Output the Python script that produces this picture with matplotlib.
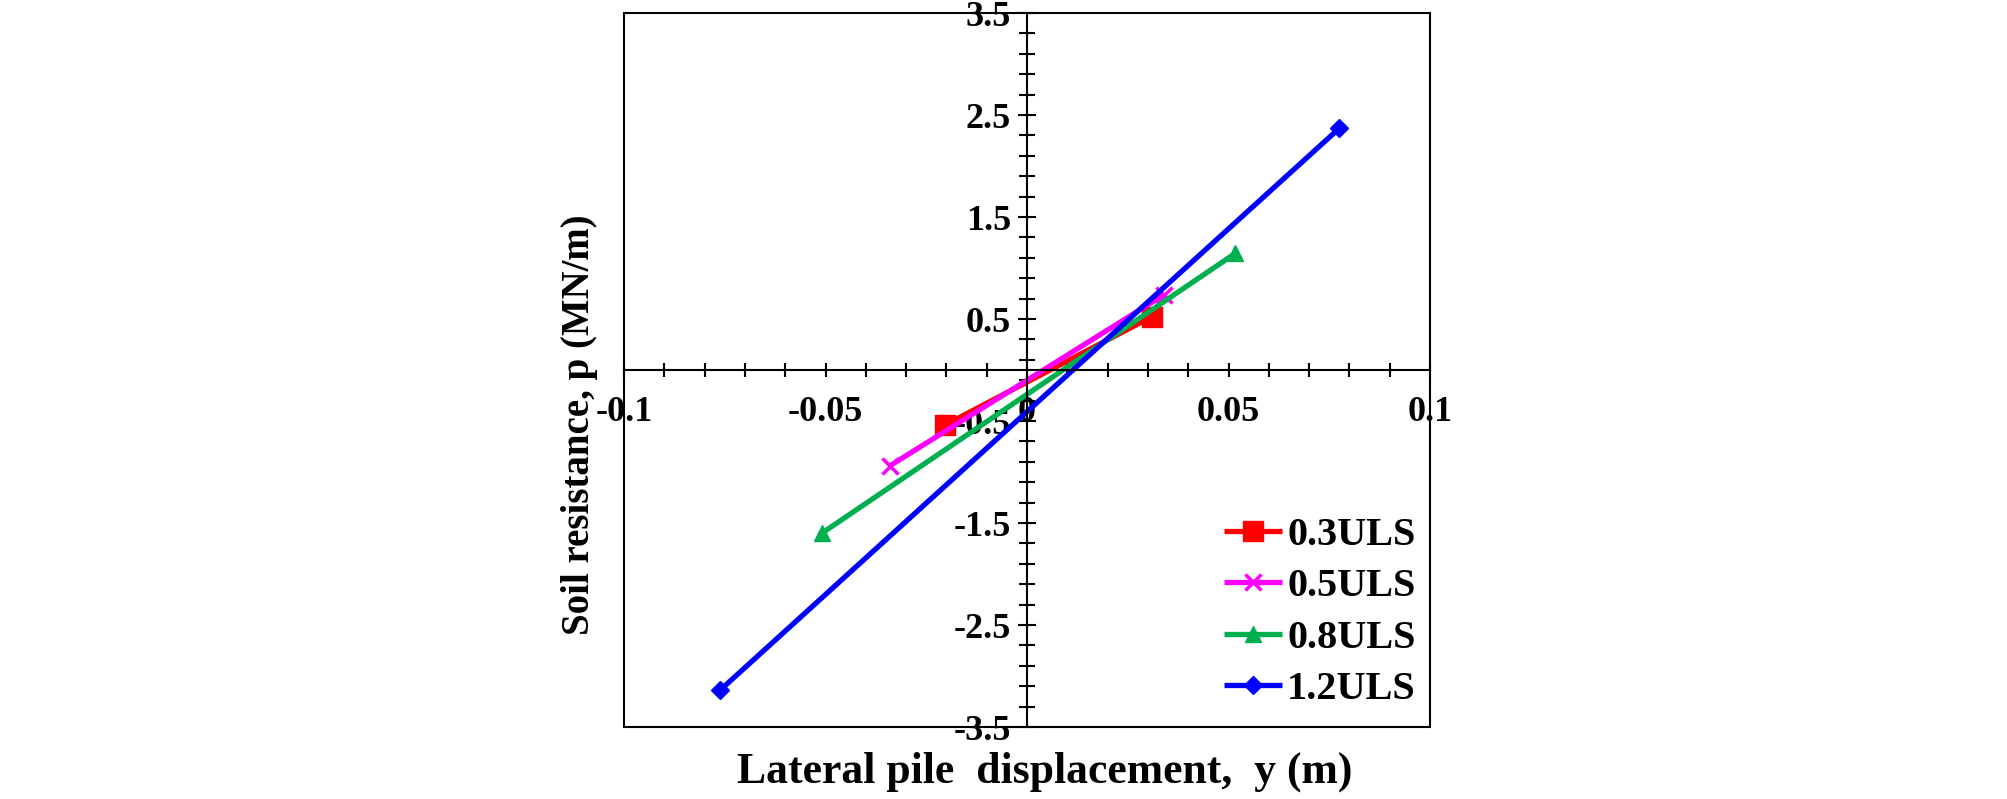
import matplotlib
matplotlib.use("Agg")
import matplotlib.pyplot as plt
from matplotlib.patches import Rectangle
from matplotlib.ticker import FixedLocator
import numpy as np

plt.rcParams['font.family'] = ['Liberation Serif', 'DejaVu Serif']
plt.rcParams['font.weight'] = 'bold'

series_names = ["0.3ULS", "0.5ULS", "0.8ULS", "1.2ULS"]
disp_03 = [-0.0203, 0.0310]
p_03 = [-0.539, 0.523]
disp_05 = [-0.0341, 0.0339]
p_05 = [-0.941, 0.735]
disp_08 = [-0.0509, 0.0517]
p_08 = [-1.60, 1.144]
disp_12 = [-0.0761, 0.0775]
p_12 = [-3.137, 2.37]

x_major = [-0.1, -0.05, 0, 0.05, 0.1]
x_labels = ["-0.1", "-0.05", "0", "0.05", "0.1"]
y_major = [-3.5, -2.5, -1.5, -0.5, 0.5, 1.5, 2.5, 3.5]
y_labels = ["-3.5", "-2.5", "-1.5", "-0.5", "0.5", "1.5", "2.5", "3.5"]

colors = ["#FF0000", "#FF00FF", "#00B050", "#0000FF"]
markers = ["s", "x", "^", "D"]
msizes = [14, 12, 12, 9]

W, H = 2008, 799
fig = plt.figure(figsize=(W / 100, H / 100), dpi=100)
ax = fig.add_axes([624 / W, (H - 727) / H, 806 / W, 714 / H])

data = [(disp_03, p_03), (disp_05, p_05), (disp_08, p_08), (disp_12, p_12)]
for (xs, ys), name, c, m, ms in zip(data, series_names, colors, markers, msizes):
    ax.plot(xs, ys, color=c, lw=3.8, marker=m, markersize=ms,
            markeredgewidth=2.5 if m == "x" else 1, markeredgecolor=c,
            markerfacecolor=c, label=name, solid_capstyle='butt')

ax.set_xlim(-0.1, 0.1)
ax.set_ylim(-3.5, 3.5)

# axes through origin
ax.spines['left'].set_position(('data', 0))
ax.spines['bottom'].set_position(('data', 0))
ax.spines['right'].set_visible(False)
ax.spines['top'].set_visible(False)
for s in ['left', 'bottom']:
    ax.spines[s].set_linewidth(1.5)
ax.add_patch(Rectangle((0, 0), 1, 1, transform=ax.transAxes, fill=False,
                       lw=1.5, edgecolor='black', clip_on=False, zorder=5))

ax.xaxis.set_major_locator(FixedLocator(x_major))
ax.set_xticklabels(x_labels)
ax.xaxis.set_minor_locator(FixedLocator(np.round(np.arange(-0.1, 0.1001, 0.01), 3)))
ax.yaxis.set_major_locator(FixedLocator(y_major))
ax.set_yticklabels(y_labels)
ax.yaxis.set_minor_locator(FixedLocator(np.round(np.arange(-3.5, 3.5001, 0.2), 2)))

ax.tick_params(axis='x', which='both', direction='inout', length=10, width=1.5,
               labelsize=26, pad=14)
ax.tick_params(axis='y', which='major', direction='inout', length=13, width=1.5,
               labelsize=26, pad=5)
ax.tick_params(axis='y', which='minor', direction='inout', length=11, width=1.5)
for lab in ax.get_xticklabels() + ax.get_yticklabels():
    lab.set_fontweight('bold')

fig.text(1045 / W, 1 - 772 / H, "Lateral pile  displacement,  y (m)",
         ha='center', va='center', fontsize=31.5, fontweight='bold')
fig.text(580 / W, 1 - 425 / H, "Soil resistance, p (MN/m)", rotation=90,
         ha='center', va='center', fontsize=28, fontweight='bold')

leg = ax.legend(loc='lower right', bbox_to_anchor=(1416 / W, (H - 708) / H),
                bbox_transform=fig.transFigure, frameon=False, borderpad=0,
                borderaxespad=0, handlelength=1.44,
                handletextpad=0.12, labelspacing=0.35,
                prop={'weight': 'bold', 'size': 29})

fig.savefig("out.png", dpi=100)
